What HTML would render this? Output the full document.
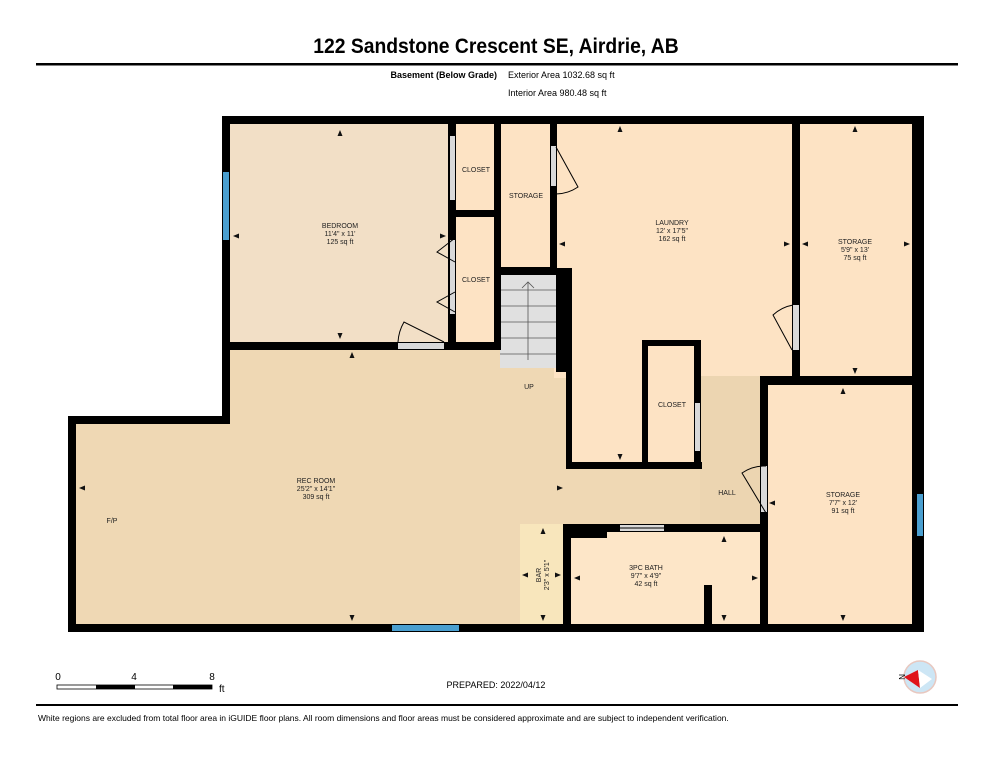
<!DOCTYPE html>
<html><head><meta charset="utf-8"><style>
body{margin:0;background:#fff;width:993px;height:768px;overflow:hidden;font-family:"Liberation Sans",Arial,sans-serif}
svg{position:absolute;left:0;top:0}
</style></head><body>
<svg width="993" height="768" viewBox="0 0 993 768" font-family="Liberation Sans, Arial, sans-serif">
<text x="496" y="53" text-anchor="middle" font-size="21" font-weight="bold" transform="translate(496 0) scale(0.92 1) translate(-496 0)">122 Sandstone Crescent SE, Airdrie, AB</text>
<rect x="36" y="63" width="922" height="2.5" fill="#000"/>
<text x="497" y="78" text-anchor="end" font-size="9" font-weight="bold">Basement (Below Grade)</text>
<text x="508" y="78" font-size="9">Exterior Area 1032.68 sq ft</text>
<text x="508" y="96" font-size="9">Interior Area 980.48 sq ft</text>

<!-- floors -->
<rect x="72" y="420" width="700" height="208" fill="#efd8b4"/>
<rect x="226" y="120" width="300" height="300" fill="#efd8b4"/>
<rect x="498" y="340" width="72" height="90" fill="#efd8b4"/>
<rect x="226" y="120" width="226" height="226" fill="#f2dfc6"/>
<rect x="452" y="120" width="46" height="226" fill="#fde3c4"/>
<rect x="498" y="120" width="56" height="150" fill="#fde3c4"/>
<rect x="554" y="120" width="242" height="258" fill="#fde3c4"/>
<rect x="568" y="270" width="132" height="196" fill="#fde3c4"/>
<rect x="700" y="376" width="64" height="148" fill="#ecd5b1"/>
<rect x="796" y="120" width="120" height="258" fill="#fde3c4"/>
<rect x="764" y="380" width="152" height="248" fill="#fde3c4"/>
<rect x="566" y="528" width="198" height="100" fill="#fde6c8"/>
<rect x="520" y="524" width="44" height="104" fill="#f8e6bc"/>
<!-- stairs -->
<rect x="500" y="275" width="56" height="93" fill="#e0e0e0"/>
<g stroke="#555" stroke-width="0.8">
<line x1="500" y1="290" x2="556" y2="290"/><line x1="500" y1="306" x2="556" y2="306"/><line x1="500" y1="322" x2="556" y2="322"/><line x1="500" y1="338" x2="556" y2="338"/><line x1="500" y1="354" x2="556" y2="354"/>
<line x1="528" y1="360" x2="528" y2="282"/><polyline points="522,288 528,282 534,288" fill="none"/>
</g>
<!-- walls -->
<g fill="#000">
<rect x="222" y="116" width="702" height="8"/>
<rect x="222" y="116" width="8" height="308"/>
<rect x="68" y="416" width="162" height="8"/>
<rect x="68" y="416" width="8" height="216"/>
<rect x="68" y="624" width="856" height="8"/>
<rect x="912" y="116" width="12" height="516"/>
<rect x="222" y="342" width="278" height="8"/>
<rect x="448" y="124" width="8" height="226"/>
<rect x="448" y="210" width="52" height="7"/>
<rect x="494" y="116" width="7" height="234"/>
<rect x="498" y="267" width="58" height="8"/>
<rect x="550" y="116" width="7" height="159"/>
<rect x="556" y="268" width="14" height="104"/>
<rect x="566" y="268" width="6" height="200"/>
<rect x="566" y="462" width="136" height="7"/>
<rect x="642" y="340" width="6" height="128"/>
<rect x="642" y="340" width="58" height="6"/>
<rect x="694" y="340" width="7" height="128"/>
<rect x="792" y="116" width="8" height="264"/>
<rect x="760" y="376" width="164" height="9"/>
<rect x="760" y="376" width="8" height="256"/>
<rect x="563" y="524" width="205" height="8"/>
<rect x="563" y="524" width="8" height="108"/>
<rect x="563" y="524" width="44" height="14"/>
<rect x="704" y="585" width="8" height="42"/>
</g>
<!-- openings / doors -->
<g fill="#d9d9d9">
<rect x="450" y="136" width="5" height="64"/>
<rect x="450" y="240" width="5" height="74"/>
<rect x="398" y="343" width="46" height="6"/>
<rect x="551" y="146" width="5" height="40"/>
<rect x="793" y="305" width="6" height="45"/>
<rect x="695" y="403" width="5" height="48"/>
<rect x="761" y="466" width="6" height="46"/>
<rect x="620" y="525" width="44" height="6"/>
</g>
<g stroke="#000" stroke-width="1" fill="none">
<polyline points="455,238 437,252 455,262"/><polyline points="455,292 437,302 455,312"/>
<path d="M444,342 L404,322 A45,45 0 0 0 398,342"/>
<path d="M556,147 L578,187 A40,40 0 0 1 556,194"/>
<path d="M792,350 L773,315 A40,40 0 0 1 793,305"/>
<path d="M766,513 L742,473 A40,40 0 0 1 766,466"/>
<line x1="620" y1="528" x2="664" y2="528"/>
</g>
<!-- windows -->
<g fill="#4a9fd0">
<rect x="223" y="172" width="6" height="68"/>
<rect x="392" y="625" width="67" height="6"/>
<rect x="917" y="494" width="6" height="42"/>
</g>
<!-- labels -->
<g font-size="7" fill="#222" text-anchor="middle">
<text x="340" y="228">BEDROOM</text><text x="340" y="236">11'4" x 11'</text><text x="340" y="244">125 sq ft</text>
<text x="476" y="172">CLOSET</text><text x="476" y="282">CLOSET</text>
<text x="526" y="198">STORAGE</text>
<text x="672" y="225">LAUNDRY</text><text x="672" y="233">12' x 17'5"</text><text x="672" y="241">162 sq ft</text>
<text x="855" y="244">STORAGE</text><text x="855" y="252">5'9" x 13'</text><text x="855" y="260">75 sq ft</text>
<text x="529" y="389">UP</text>
<text x="672" y="407">CLOSET</text>
<text x="316" y="483">REC ROOM</text><text x="316" y="491">25'2" x 14'1"</text><text x="316" y="499">309 sq ft</text>
<text x="112" y="523">F/P</text>
<text x="727" y="495">HALL</text>
<text x="843" y="497">STORAGE</text><text x="843" y="505">7'7" x 12'</text><text x="843" y="513">91 sq ft</text>
<text x="646" y="570">3PC BATH</text><text x="646" y="578">9'7" x 4'9"</text><text x="646" y="586">42 sq ft</text>
<text transform="translate(541 575) rotate(-90)">BAR</text><text transform="translate(549 575) rotate(-90)">2'3" x 5'1"</text>
</g>
<!-- arrows -->
<g fill="#111">
<path d="M340,130 l-2.5,6 h5z"/><path d="M340,339 l-2.5,-6 h5z"/>
<path d="M233,236 l6,-2.5 v5z"/><path d="M446,236 l-6,-2.5 v5z"/>
<path d="M352,352 l-2.5,6 h5z"/>
<path d="M620,126 l-2.5,6 h5z"/><path d="M559,244 l6,-2.5 v5z"/><path d="M790,244 l-6,-2.5 v5z"/>
<path d="M620,460 l-2.5,-6 h5z"/>
<path d="M855,126 l-2.5,6 h5z"/><path d="M855,374 l-2.5,-6 h5z"/><path d="M802,244 l6,-2.5 v5z"/><path d="M910,244 l-6,-2.5 v5z"/>
<path d="M843,388 l-2.5,6 h5z"/><path d="M843,621 l-2.5,-6 h5z"/><path d="M769,503 l6,-2.5 v5z"/>
<path d="M79,488 l6,-2.5 v5z"/><path d="M563,488 l-6,-2.5 v5z"/><path d="M352,621 l-2.5,-6 h5z"/>
<path d="M543,528 l-2.5,6 h5z"/><path d="M543,621 l-2.5,-6 h5z"/><path d="M522,575 l6,-2.5 v5z"/><path d="M561,575 l-6,-2.5 v5z"/>
<path d="M724,536 l-2.5,6 h5z"/><path d="M724,621 l-2.5,-6 h5z"/><path d="M574,578 l6,-2.5 v5z"/><path d="M758,578 l-6,-2.5 v5z"/>
</g>
<!-- scale -->
<g font-size="10" fill="#000">
<text x="58" y="680" text-anchor="middle">0</text><text x="134" y="680" text-anchor="middle">4</text><text x="212" y="680" text-anchor="middle">8</text><text x="219" y="692">ft</text>
</g>
<rect x="57" y="685" width="155" height="4" fill="#fff" stroke="#000" stroke-width="0.8"/>
<rect x="96" y="685" width="39" height="4" fill="#000"/><rect x="173" y="685" width="39" height="4" fill="#000"/>
<text x="496" y="688" text-anchor="middle" font-size="9">PREPARED: 2022/04/12</text>
<circle cx="920" cy="677" r="16" fill="#cde6f5" stroke="#e8c8c0" stroke-width="1.5"/>
<path d="M904,677 L918,670 L920,688 Z" fill="#e0141b"/>
<path d="M918,670 L932,679 L920,688Z" fill="#fff"/>
<text x="899" y="674" font-size="8" transform="rotate(90 899 674)">N</text>
<rect x="36" y="704" width="922" height="2" fill="#000"/>
<text x="38" y="721" font-size="8.5">White regions are excluded from total floor area in iGUIDE floor plans. All room dimensions and floor areas must be considered approximate and are subject to independent verification.</text>
</svg>
</body></html>
